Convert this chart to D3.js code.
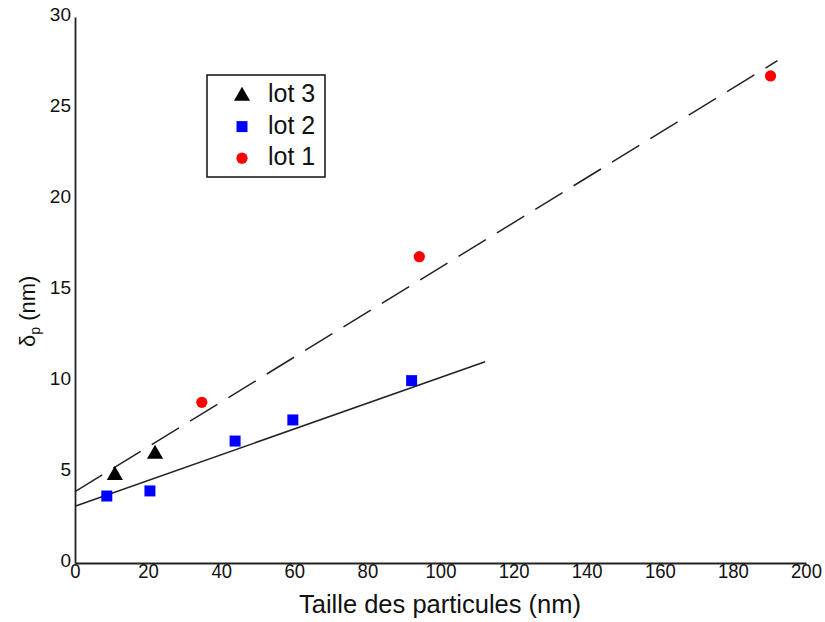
<!DOCTYPE html>
<html>
<head>
<meta charset="utf-8">
<script src="https://cdn.jsdelivr.net/npm/d3@7"></script>
<style>
  html, body { margin: 0; padding: 0; background: #fff; }
  svg { display: block; font-family: "Liberation Sans", Arial, sans-serif; }
</style>
</head>
<body>
<svg id="chart" width="825" height="622"></svg>
<script>
// ---- data ----
const xTicks = [0, 20, 40, 60, 80, 100, 120, 140, 160, 180, 200];
const yTicks = [0, 5, 10, 15, 20, 25, 30];

const lot3X = [10.9, 21.9];
const lot3Y = [4.82, 5.99];
const lot2X = [8.7, 20.5, 43.8, 59.6, 92.1];
const lot2Y = [3.68, 3.96, 6.70, 7.86, 10.02];
const lot1X = [34.7, 94.2, 190.3];
const lot1Y = [8.83, 16.83, 26.76];

// fitted lines (endpoints)
const fitDashedX = [0, 192.2];
const fitDashedY = [3.92, 27.6];
const fitSolidX = [0, 112.2];
const fitSolidY = [3.12, 11.06];

const legendLabels = ["lot 3", "lot 2", "lot 1"];

// ---- drawing ----
const svg = d3.select("#chart");
const x = d3.scaleLinear().domain([0, 200]).range([75, 806]);
const y = d3.scaleLinear().domain([0, 30]).range([563, 17]);

const axisColor = "#222";

// x axis
const gx = svg.append("g").attr("transform", `translate(0,${y(0)})`)
  .call(d3.axisBottom(x).tickValues(xTicks).tickSize(0).tickPadding(0).tickFormat(d3.format("d")));
gx.select(".domain").attr("stroke", axisColor).attr("stroke-width", 1.8);
gx.selectAll("text").attr("font-size", 21).attr("fill", "#111")
  .attr("transform", "scale(0.88,1)")
  .attr("font-family", "'Liberation Sans', Arial, sans-serif");

// y axis
const gy = svg.append("g").attr("transform", `translate(${x(0)},0)`)
  .call(d3.axisLeft(y).tickValues(yTicks).tickSize(0).tickPadding(4).tickFormat(d3.format("d")));
gy.select(".domain").attr("stroke", axisColor).attr("stroke-width", 1.8);
gy.selectAll("text").attr("font-size", 19).attr("fill", "#111").attr("dy", "0.2em")
  .attr("font-family", "'Liberation Sans', Arial, sans-serif");

// fit lines
const line = d3.line().x(d => x(d[0])).y(d => y(d[1]));
svg.append("path")
  .datum(fitDashedX.map((v, i) => [v, fitDashedY[i]]))
  .attr("d", line).attr("fill", "none").attr("stroke", "#222")
  .attr("stroke-width", 1.5).attr("stroke-dasharray", "32,13");
svg.append("path")
  .datum(fitSolidX.map((v, i) => [v, fitSolidY[i]]))
  .attr("d", line).attr("fill", "none").attr("stroke", "#222")
  .attr("stroke-width", 1.5);

// markers
const triSym = d3.symbol().type(d3.symbolTriangle).size(113);
const sqSym = d3.symbol().type(d3.symbolSquare).size(121);

svg.append("g").selectAll("path")
  .data(lot2X.map((v, i) => [v, lot2Y[i]]))
  .join("path")
  .attr("d", sqSym)
  .attr("transform", d => `translate(${x(d[0])},${y(d[1])})`)
  .attr("fill", "#0000ff");

svg.append("g").selectAll("circle")
  .data(lot1X.map((v, i) => [v, lot1Y[i]]))
  .join("circle")
  .attr("cx", d => x(d[0])).attr("cy", d => y(d[1])).attr("r", 5.6)
  .attr("fill", "#ff0000");

svg.append("g").selectAll("path")
  .data(lot3X.map((v, i) => [v, lot3Y[i]]))
  .join("path")
  .attr("d", triSym)
  .attr("transform", d => `translate(${x(d[0])},${y(d[1])})`)
  .attr("fill", "#000");

// legend
const lg = svg.append("g");
lg.append("rect").attr("x", 207).attr("y", 75).attr("width", 118).attr("height", 102)
  .attr("fill", "#fff").attr("stroke", "#111").attr("stroke-width", 1.5);
const legendRows = [0, 1, 2];
legendRows.forEach(i => {
  const cy = 95 + i * 31.6;
  if (i === 0) {
    lg.append("path").attr("d", triSym).attr("transform", `translate(242,${cy + 1})`).attr("fill", "#000");
  } else if (i === 1) {
    lg.append("path").attr("d", sqSym).attr("transform", `translate(242,${cy})`).attr("fill", "#0000ff");
  } else {
    lg.append("circle").attr("cx", 242).attr("cy", cy).attr("r", 5.6).attr("fill", "#ff0000");
  }
  lg.append("text").attr("x", 268).attr("y", cy + 7).attr("font-size", 25)
    .attr("fill", "#111").text(legendLabels[i]);
});

// axis titles
svg.append("text").attr("x", 440).attr("y", 613).attr("text-anchor", "middle")
  .attr("font-size", 25.5).attr("fill", "#111").text("Taille des particules (nm)");

const yt = svg.append("text").attr("transform", "translate(35,347) rotate(-90)")
  .attr("font-size", 22).attr("fill", "#111");
yt.append("tspan").text("δ");
yt.append("tspan").attr("font-size", 14).attr("dy", 5).text("p");
yt.append("tspan").attr("dy", -5).text(" (nm)");
</script>
</body>
</html>
